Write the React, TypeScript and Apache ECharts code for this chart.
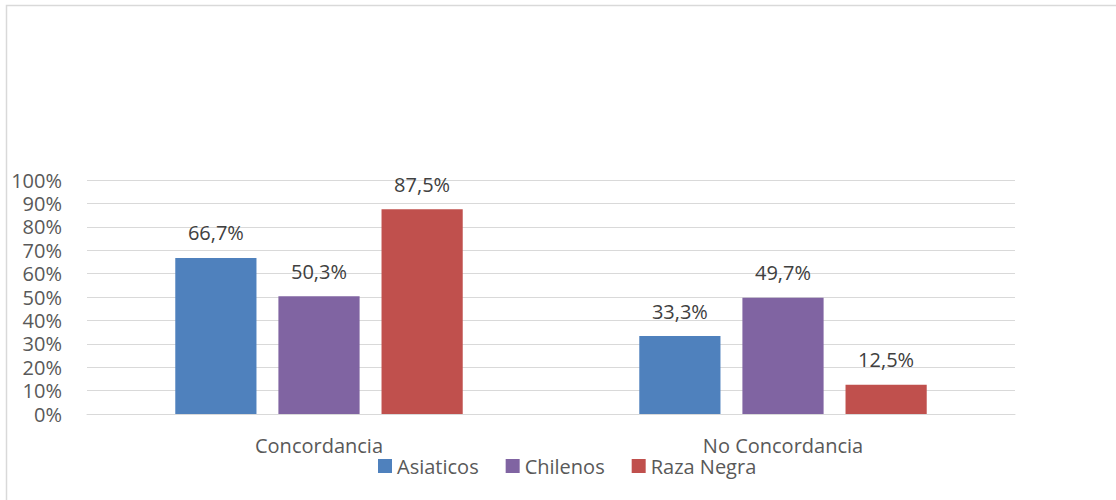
import React, { useEffect, useRef } from "react";
import * as echarts from "echarts";

const categories = ["Concordancia", "No Concordancia"];
const seriesNames = ["Asiaticos", "Chilenos", "Raza Negra"];
const asiaticos = [66.7, 33.3];
const chilenos = [50.3, 49.7];
const razaNegra = [87.5, 12.5];
const colors = ["#4f81bd", "#8064a2", "#c0504d"];
const yTicks = [0, 10, 20, 30, 40, 50, 60, 70, 80, 90, 100];

const FONT = "Open Sans";

export default function App() {
  const ref = useRef<HTMLDivElement>(null);
  useEffect(() => {
    if (!ref.current) return;
    const chart = echarts.init(ref.current, null, { renderer: "svg" });
    const values = [asiaticos, chilenos, razaNegra];
    chart.setOption({
      animation: false,
      textStyle: { fontFamily: FONT },
      grid: { left: 87, right: 101, top: 180, bottom: 86, containLabel: false },
      legend: {
        data: seriesNames,
        left: 378,
        top: 456,
        padding: 0,
        icon: "rect",
        itemWidth: 14,
        itemHeight: 14,
        itemGap: 27,
        textStyle: { fontFamily: FONT, fontSize: 20, lineHeight: 16, color: "#595959" },
      },
      graphic: [
        {
          type: "rect",
          shape: { x: 6.5, y: 5.5, width: 1200, height: 600 },
          style: { fill: "none", stroke: "#d9d9d9", lineWidth: 1.5 },
          silent: true,
        },
      ],
      xAxis: {
        type: "category",
        data: categories,
        axisLine: { lineStyle: { color: "#d9d9d9", width: 1 } },
        axisTick: { show: false },
        axisLabel: { fontFamily: FONT, fontSize: 20, lineHeight: 16, color: "#595959", margin: 23 },
      },
      yAxis: {
        type: "value",
        min: yTicks[0],
        max: yTicks[yTicks.length - 1],
        interval: 10,
        axisLine: { show: false },
        axisTick: { show: false },
        splitLine: { lineStyle: { color: "#d9d9d9", width: 1 } },
        axisLabel: {
          fontFamily: FONT,
          fontSize: 20,
          lineHeight: 18,
          color: "#595959",
          margin: 25,
          formatter: (v: number) => `${v}%`,
        },
      },
      series: seriesNames.map((name, i) => ({
        name,
        type: "bar",
        data: values[i],
        barWidth: "17.5%",
        barGap: "27%",
        itemStyle: { color: colors[i] },
        label: {
          show: true,
          position: "top",
          distance: 15,
          fontFamily: FONT,
          fontSize: 20,
          color: "#404040",
          formatter: (p: any) => `${p.value.toFixed(1).replace(".", ",")}%`,
        },
      })),
    });
    return () => chart.dispose();
  }, []);
  return (
    <div
      ref={ref}
      style={{ position: "fixed", left: 0, top: 0, width: 1116, height: 500, background: "#fff" }}
    />
  );
}
